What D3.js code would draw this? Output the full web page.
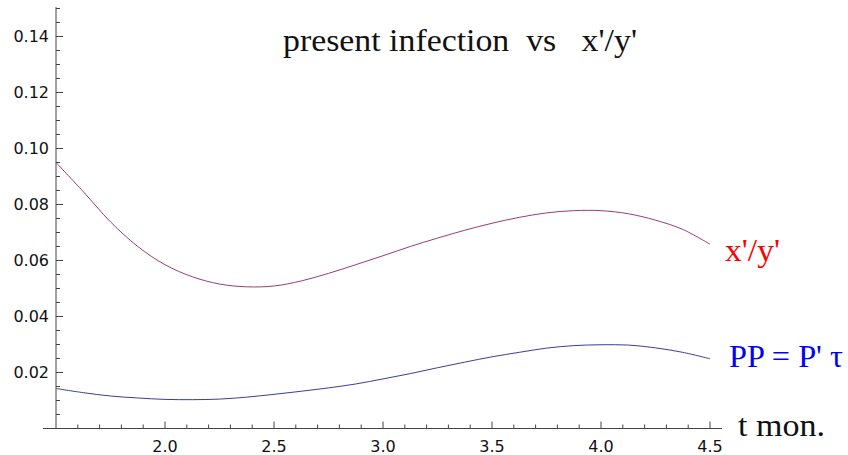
<!DOCTYPE html>
<html><head><meta charset="utf-8">
<script src="https://cdn.jsdelivr.net/npm/d3@7"></script>
<style>html,body{margin:0;padding:0;background:#fff;}svg{display:block;}</style>
</head><body>
<script>
const tValues = [1.5,1.625,1.75,1.875,2.0,2.125,2.25,2.375,2.5,2.625,2.75,2.875,3.0,3.125,3.25,3.375,3.5,3.625,3.75,3.875,4.0,4.125,4.25,4.375,4.5];
const ratioXY = [0.0950,0.0846,0.0738,0.0650,0.0585,0.0542,0.0516,0.0506,0.0509,0.0527,0.0554,0.0585,0.0617,0.0650,0.0680,0.0708,0.0733,0.0754,0.0770,0.0778,0.0778,0.0767,0.0744,0.0711,0.0658];
const ppValues = [0.0143,0.0128,0.0116,0.0109,0.0104,0.0103,0.0105,0.0112,0.0122,0.0133,0.0145,0.0159,0.0177,0.0196,0.0217,0.0237,0.0256,0.0272,0.0287,0.0296,0.0299,0.0298,0.0288,0.0272,0.0249];
const xMajorTicks = [2.0,2.5,3.0,3.5,4.0,4.5];
const yMajorTicks = [0.02,0.04,0.06,0.08,0.10,0.12,0.14];
const titleText = "present infection  vs   x'/y'";
const xAxisLabel = "t mon.";
const seriesLabels = ["x'/y'", "PP = P' \u03c4"];

const W = 848, H = 455;
const svg = d3.select("body").append("svg").attr("width", W).attr("height", H);

const x = d3.scaleLinear().domain([1.5, 4.5]).range([56, 710]);
const y = d3.scaleLinear().domain([0, 0.14]).range([428.5, 36.5]);

const axisColor = "#444";
const g = svg.append("g");

g.append("line").attr("x1", x(1.44)).attr("x2", x(4.555)).attr("y1", y(0)).attr("y2", y(0))
  .attr("stroke", axisColor).attr("stroke-width", 1);
g.append("line").attr("x1", x(1.5)).attr("x2", x(1.5)).attr("y1", y(0)).attr("y2", y(0.1505))
  .attr("stroke", axisColor).attr("stroke-width", 1);

const xMinor = d3.range(16, 46).map(d => d / 10);
xMinor.forEach(v => {
  const isMajor = xMajorTicks.some(m => Math.abs(m - v) < 1e-9);
  g.append("line").attr("x1", x(v)).attr("x2", x(v)).attr("y1", y(0)).attr("y2", y(0) - (isMajor ? 7 : 4))
    .attr("stroke", axisColor).attr("stroke-width", 1);
});
xMajorTicks.forEach(v => {
  g.append("text").attr("x", x(v)).attr("y", 452).attr("text-anchor", "middle")
    .attr("font-family", "DejaVu Sans").attr("font-size", 16).attr("fill", "#111")
    .text(v.toFixed(1));
});

const yMinor = d3.range(1, 31).map(d => d * 0.005);
yMinor.forEach(v => {
  const isMajor = yMajorTicks.some(m => Math.abs(m - v) < 1e-9);
  g.append("line").attr("x1", x(1.5)).attr("x2", x(1.5) + (isMajor ? 7 : 4)).attr("y1", y(v)).attr("y2", y(v))
    .attr("stroke", axisColor).attr("stroke-width", 1);
});
yMajorTicks.forEach(v => {
  g.append("text").attr("x", 49).attr("y", y(v)).attr("dy", "0.36em").attr("text-anchor", "end")
    .attr("font-family", "DejaVu Sans").attr("font-size", 16).attr("fill", "#111")
    .text(v.toFixed(2));
});

const line = d3.line().x(d => x(d[0])).y(d => y(d[1])).curve(d3.curveCatmullRom);
svg.append("path").datum(tValues.map((t, i) => [t, ratioXY[i]]))
  .attr("d", line).attr("fill", "none").attr("stroke", "#993d74").attr("stroke-width", 1);
svg.append("path").datum(tValues.map((t, i) => [t, ppValues[i]]))
  .attr("d", line).attr("fill", "none").attr("stroke", "#3d3d99").attr("stroke-width", 1);

const serif = "'Liberation Serif', 'DejaVu Serif', serif";
function label(txt, xx, yy, w, color) {
  svg.append("text").attr("x", xx).attr("y", yy).attr("font-family", serif).attr("font-size", 31)
    .attr("fill", color).style("white-space", "pre")
    .attr("textLength", w).attr("lengthAdjust", "spacingAndGlyphs").text(txt);
}
label(titleText, 283, 51, 354, "#111");
label(xAxisLabel, 738, 436, 87, "#111");
label(seriesLabels[0], 725, 261, 55, "#ff0000");
label(seriesLabels[1], 729, 367, 114, "#0000ff");
</script>
</body></html>
